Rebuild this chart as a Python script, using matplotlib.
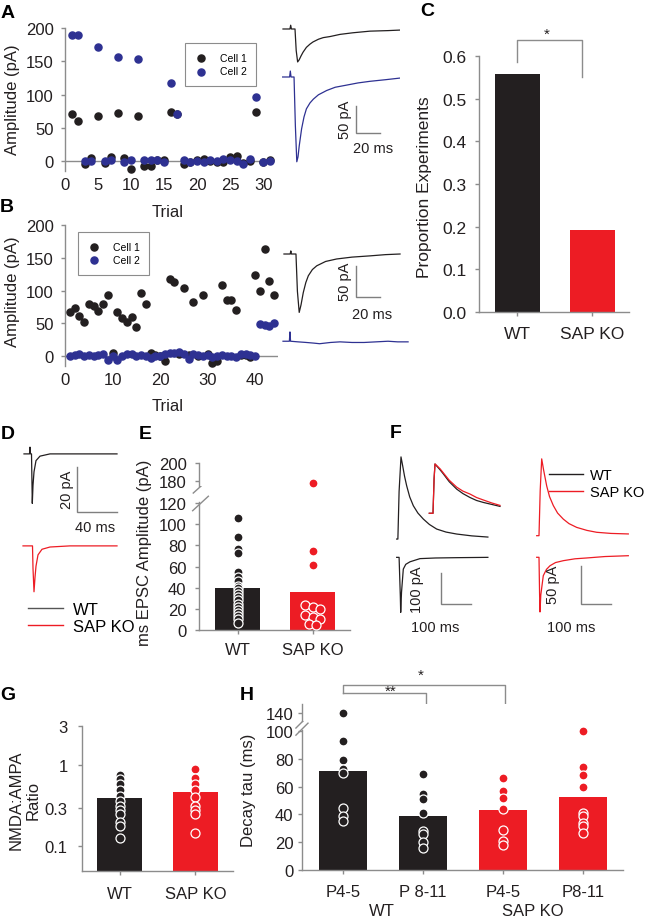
import matplotlib
matplotlib.use('Agg')
import numpy as np
import matplotlib.pyplot as plt
import matplotlib.transforms as mtransforms
from matplotlib.lines import Line2D

plt.rcParams['font.family'] = ['Liberation Sans', 'DejaVu Sans']

### Data ###

# A - amplitude per trial, two cells
trials_a = list(range(1, 32))
a_cell1 = [70, 60, -5, 5, 68, -3, 6, 72, 4, -12, 68, -8, -7, 2, 2, 74, 70, -4, -2, 2,
           3, 0, -1, -2, 6, 8, -3, 0, 73, -1, 2]
a_cell2 = [190, 189, 0, 0, 171, 0, 2, 157, -2, 2, 154, 1, 2, 1, -2, 118, 71, 2, -1, 0,
           -1, 1, 0, 3, 2, 0, -5, 3, 96, -1, 0]

# B - amplitude per trial, two cells
trials_b = list(range(1, 45))
b_cell1 = [68, 73, 61, 52, 79, 76, 69, 80, 94, 5, 67, 58, 52, 60, 45, 96, 80, 5, 2, 0,
           -8, 117, 113, 3, 104, 2, 83, 0, 94, 3, -10, -8, 108, 85, 85, 70, 2, 2, -1, 124,
           100, 164, 115, 94]
b_cell2 = [0, 2, 3, 1, 2, 1, 2, 3, -6, 0, -6, 1, 3, 4, 1, 2, 0, -3, 1, 0,
           3, 5, 5, 6, 4, -4, 3, 2, 1, 2, -2, 0, 2, 0, 1, -1, 3, 4, 2, 0,
           49, 48, 46, 50]

# example traces (ms, pA)
a1_t = [2.5, 8.3, 8.9, 9.5, 12.5, 13.5, 14.7, 16, 17.5, 19.2, 22, 25, 27.5, 32, 36, 41.7, 50, 60.8, 75, 90, 100]
a1_i = [0, 0, 7, 0, 0, -40, -61, -57, -50, -43, -34, -28, -24, -19, -16, -14, -10, -7, -4, -3, -2]
a2_t = [2.2, 8.0, 8.6, 9.2, 11.7, 12.8, 14, 15, 16, 18, 20, 22, 25, 27.8, 32, 38.9, 46, 55.6, 65, 75, 88, 100]
a2_i = [0, 0, 11, 0, 0, -90, -157, -148, -128, -96, -74, -59, -48, -41, -33, -25, -19, -15, -11, -8, -5, -2]
b1_t = [3.3, 8.5, 9, 9.5, 13.3, 14.5, 16, 17.5, 19.4, 21.5, 23.6, 27, 30.6, 38, 47.2, 60, 75, 88, 100]
b1_i = [0, 0, 5, 0, 0, -60, -94, -82, -62, -46, -35, -25, -19, -12, -8, -5, -3, -1, 0]
b2_t = [2.5, 7.8, 8.3, 8.8, 15, 22, 28, 33, 42, 50, 60, 70, 80, 90, 98, 106.7]
b2_i = [0, 0, 15, 0, -1, -2, -3, -4, -2, -1, -2, -2, -1, 0, -1, -1]

# C - proportion of experiments
groups = ['WT', 'SAP KO']
prop_exp = [0.557, 0.192]

# D - mEPSC traces
d1_t = [4, 9.5, 10, 10.5, 11.5, 12.3, 13, 14, 16, 20, 30, 50, 70, 97]
d1_i = [0, 0, 3, 0, 0, -22, -14, -8, -3, -1, 0, 0, 0, 0]
d2_t = [3, 12.5, 13, 14, 15, 16, 18, 22, 30, 50, 70, 97]
d2_i = [0, 0, -10, -20.4, -14, -9, -4, -1.5, -0.5, 0, 0, 0]

# E - mEPSC amplitude
e_mean = [39.7, 35.5]
e_wt = [106, 88, 77, 73, 55, 50, 46, 42, 40, 37, 34, 31, 28, 25, 22, 19, 16, 13, 10, 7]
e_ko = [178, 75, 61, 24, 22, 20, 14, 12, 10, 6, 5]
e_ko_jit = [0, 0, 0, -0.1, 0, 0.1, -0.1, 0, 0.1, -0.05, 0.05]

# F - NMDA / AMPA traces
fw_n_t = [22, 26, 30, 36.3, 42, 48, 55, 65, 77, 92, 110, 130, 154, 185, 220, 270, 323]
fw_n_i = [0, 0, 150, 259, 230, 198, 168, 133, 105, 82, 63, 46, 31.5, 22, 15.8, 10, 6.3]
fw_a_t = [22, 30, 34, 35.3, 38, 43.9, 52, 66, 99, 150, 220, 323]
fw_a_i = [0, 0, -120, -173.5, -110, -37, -22, -14, -4, -2, -1, 0]
fk_n_t = [22.3, 30, 34, 39, 45, 55.7, 65, 77.7, 92, 111, 130, 155.7, 190, 222.3, 270, 327.7]
fk_n_i = [0, 0, 60, 102, 88, 66, 52, 40, 30, 22, 16, 11, 7, 4.5, 3, 2.3]
fk_a_t = [22.3, 30, 32, 33.3, 36, 44.3, 55, 66.7, 85, 111, 150, 189, 250, 327.7]
fk_a_i = [0, 0, -50, -72.6, -50, -24.4, -16, -11.2, -7, -4.5, -2, -0.9, 1, 2.1]
fn_t = [14.2, 26.4, 30, 33, 40, 50, 60.4, 80, 104.6, 125, 148.5, 170, 192.4, 220, 247.5]
fn_wt = [0, 0, 0.7, 1.0, 0.95, 0.88, 0.80, 0.64, 0.49, 0.40, 0.32, 0.26, 0.22, 0.18, 0.14]
fn_ko = [0, 0, 0.7, 1.0, 0.96, 0.90, 0.82, 0.67, 0.53, 0.45, 0.39, 0.32, 0.27, 0.21, 0.16]

# G - NMDA:AMPA ratio
g_mean = [0.39, 0.47]
g_wt = [0.75, 0.68, 0.59, 0.49, 0.42, 0.36, 0.31, 0.28, 0.25, 0.20, 0.18, 0.125]
g_ko = [0.90, 0.69, 0.59, 0.49, 0.40, 0.31, 0.28, 0.25, 0.144]

# H - decay tau
h_labels = ['P4-5', 'P 8-11', 'P4-5', 'P8-11']
h_mean = [71.5, 39, 43.1, 52.7]
h_pts = [[140, 93, 79.5, 72.5, 70, 44.5, 39, 35],
         [69, 55, 51, 41, 28, 26, 20, 16],
         [66, 57, 52, 44, 29, 20.5, 17.5],
         [100, 74.5, 68.5, 59.5, 41, 39, 34, 31.5, 26.5]]

### Style ###
BLK = '#231f20'
RED = '#ed1c24'
BLU = '#2e3192'
AXC = '#8c8c8c'
TXT = '#231f20'
SB = '#7f7f7f'

W, H = 650, 920
fig = plt.figure(figsize=(6.5, 9.2), dpi=100)


def add_ax(x0, y0, x1, y1):
    return fig.add_axes([x0 / W, 1 - y1 / H, (x1 - x0) / W, (y1 - y0) / H])


def ptext(x, y, s, **kw):
    kw.setdefault('ha', 'center')
    kw.setdefault('va', 'center')
    kw.setdefault('color', TXT)
    kw.setdefault('fontsize', 12)
    fig.text(x / W, 1 - y / H, s, **kw)


def bar_axes(ax, fs=12):
    for s in ('top', 'right'):
        ax.spines[s].set_visible(False)
    for s in ('left', 'bottom'):
        ax.spines[s].set_color(AXC)
        ax.spines[s].set_linewidth(1)
    ax.tick_params(color=AXC, labelcolor=TXT, labelsize=fs, length=3, width=1)


def trace_axes(ax):
    ax.axis('off')


def scalebar(ax, x, y, dx, dy, lx, ly, tx, ty):
    ax.plot([x, x, x + dx], [y + dy, y, y], color=SB, lw=1, solid_joinstyle='miter')
    ax.text(*tx, lx, rotation=90, ha='center', va='center', fontsize=10.5, color=TXT)
    ax.text(*ty, ly, ha='center', va='center', fontsize=10.5, color=TXT)


def dots(ax, x, vals, color, lo=None, hi=None):
    vals = np.asarray(vals, float)
    x = np.asarray(x, float)
    m = np.ones(len(vals), bool)
    if lo is not None:
        m &= vals >= lo
    if hi is not None:
        m &= vals <= hi
    ax.scatter(x[m], vals[m], s=42, color=color, edgecolors='white',
               linewidths=0.9, zorder=3, clip_on=False)


def slash(ax, x0, y0, x1, y1):
    ax.plot([x0, x1], [y0, y1], color=AXC, lw=1, transform=ax.transAxes, clip_on=False)


### A ###
axA = add_ax(65, 29, 273, 172)
axA.axhline(0, color=AXC, lw=1, zorder=1)
axA.scatter(trials_a, a_cell1, s=26, color=BLK, label='Cell 1', zorder=3, clip_on=False)
axA.scatter(trials_a, a_cell2, s=26, color=BLU, label='Cell 2', zorder=4, clip_on=False)
axA.set_xlim(0, 31.5)
axA.set_ylim(-15, 200)
bar_axes(axA)
axA.spines['bottom'].set_visible(False)
axA.set_xticks(range(0, 31, 5))
axA.set_yticks(range(0, 201, 50))
axA.tick_params(axis='x', length=0, pad=4)
axA.tick_params(axis='y', pad=5)
legA = axA.legend(loc='upper left', bbox_to_anchor=(0.553, 0.93), fontsize=7.5,
                  fancybox=False, edgecolor=AXC, framealpha=1, handletextpad=1.2,
                  borderpad=0.9, labelspacing=0.35, handlelength=1.2)
legA.get_frame().set_linewidth(0.8)
ptext(13, 100, 'Amplitude (pA)', rotation=90)
ptext(168, 213, 'Trial')

# A traces
axAt = add_ax(280, 20, 400, 170)
trace_axes(axAt)
axAt.set_xlim(0, 100)
axAt.set_ylim(-277.8, 0)
axAt.plot(a1_t, np.array(a1_i) - 18.5, color=BLK, lw=0.9)
axAt.plot(a2_t, np.array(a2_i) - 107.4, color=BLU, lw=0.9)
scalebar(axAt, 63.3, -211, 20, 50, '50 pA', '20 ms', (54.2, -185), (77.5, -239))

### B ###
axB = add_ax(65, 226, 278, 367)
axB.axhline(0, color=AXC, lw=1, zorder=1)
axB.scatter(trials_b, b_cell1, s=26, color=BLK, label='Cell 1', zorder=3, clip_on=False)
axB.scatter(trials_b, b_cell2, s=26, color=BLU, label='Cell 2', zorder=4, clip_on=False)
axB.set_xlim(0, 44.8)
axB.set_ylim(-15, 200)
bar_axes(axB)
axB.spines['bottom'].set_visible(False)
axB.set_xticks(range(0, 41, 10))
axB.set_yticks(range(0, 201, 50))
axB.tick_params(axis='x', length=0, pad=4)
axB.tick_params(axis='y', pad=5)
legB = axB.legend(loc='upper left', bbox_to_anchor=(0.038, 0.986), fontsize=7.5,
                  fancybox=False, edgecolor=AXC, framealpha=1, handletextpad=1.2,
                  borderpad=0.9, labelspacing=0.35, handlelength=1.2)
legB.get_frame().set_linewidth(0.8)
ptext(13, 292, 'Amplitude (pA)', rotation=90)
ptext(168, 407, 'Trial')

axBt = add_ax(280, 245, 410, 350)
trace_axes(axBt)
axBt.set_xlim(0, 108.3)
axBt.set_ylim(-169, 0)
axBt.plot(b1_t, np.array(b1_i) - 16.1, color=BLK, lw=0.9)
axBt.plot(b2_t, np.array(b2_i) - 156.5, color=BLU, lw=0.9)
scalebar(axBt, 63.3, -85.5, 20, 50, '50 pA', '20 ms', (54.2, -59.7), (76.7, -112.9))

### C ###
axC = add_ax(479, 57, 629, 313)
axC.bar([0, 1], prop_exp, width=0.6, color=[BLK, RED])
axC.set_xlim(-0.507, 1.493)
axC.set_ylim(0, 0.6)
bar_axes(axC, 12.5)
axC.set_xticks([0, 1], groups)
axC.set_yticks(np.arange(0, 0.61, 0.1))
axC.set_yticklabels(['%.1f' % v for v in np.arange(0, 0.61, 0.1)])
axC.tick_params(axis='y', pad=6)
axC.tick_params(axis='x', pad=7)
axC.plot([0, 0, 0.867, 0.867], [0.586, 0.6375, 0.6375, 0.551], color=AXC, lw=1, clip_on=False)
axC.text(0.4, 0.652, '*', ha='center', va='center', fontsize=11, color=TXT)
ptext(425, 187, 'Proportion Experiments', rotation=90, fontsize=12.5)

### D ###
axD = add_ax(20, 445, 125, 640)
trace_axes(axD)
axD.set_xlim(0, 105)
axD.set_ylim(-86.7, 0)
axD.plot(d1_t, np.array(d1_i) - 4.4, color=BLK, lw=0.9)
axD.plot(d2_t, np.array(d2_i) - 45.3, color=RED, lw=0.9)
scalebar(axD, 57, -30.2, 40, 20, '20 pA', '40 ms', (47, -20), (75, -36.9))
hD = [Line2D([], [], color='#555555', lw=1), Line2D([], [], color=RED, lw=1)]
axD.legend(hD, ['WT', 'SAP KO'], loc='upper left', bbox_to_anchor=(28 / W, 1 - 603 / H),
           bbox_transform=fig.transFigure, frameon=False, fontsize=12, handlelength=2.1,
           handletextpad=0.6, borderpad=0, borderaxespad=0, labelspacing=0.1)

### E ###
axE = add_ax(199, 503, 350, 631)
axEu = add_ax(199, 464, 350, 487)
axE.bar([0, 1], e_mean, width=0.6, color=[BLK, RED])
axEu.bar([0, 1], e_mean, width=0.6, color=[BLK, RED])
dots(axE, np.zeros(len(e_wt)), e_wt, BLK, hi=121)
dots(axE, 1 + np.array(e_ko_jit), e_ko, RED, hi=121)
dots(axEu, 1 + np.array(e_ko_jit), e_ko, RED, lo=174.5)
for ax in (axE, axEu):
    ax.set_xlim(-0.52, 1.5)
    bar_axes(ax)
    ax.tick_params(axis='y', pad=6)
axE.set_ylim(0, 121)
axEu.set_ylim(174.5, 200)
axE.set_yticks(range(0, 121, 20))
axEu.set_yticks([180, 200])
axE.set_xticks([0, 1], groups)
axE.tick_params(axis='x', pad=6)
axEu.spines['bottom'].set_visible(False)
axEu.set_xticks([])
slash(axE, -0.042, 0.932, 0.062, 1.045)
slash(axE, -0.038, 1.07, 0.062, 1.176)
ptext(145, 553, 'ms EPSC Amplitude (pA)', rotation=90)

### F ###
axF1 = add_ax(390, 450, 500, 640)
trace_axes(axF1)
axF1.set_xlim(0, 363)
axF1.set_ylim(-599, 0)
axF1.plot(fw_n_t, np.array(fw_n_i) - 283.9, color=BLK, lw=0.9)
axF1.plot(fw_a_t, np.array(fw_a_i) - 341.6, color=BLK, lw=0.9)
scalebar(axF1, 167.3, -489.9, 100, 100, '100 pA', '100 ms', (88, -441.6), (148.5, -560))

axFi = add_ax(425, 460, 505, 520)
trace_axes(axFi)
axFi.set_xlim(0, 264)
axFi.set_ylim(-0.116, 1.101)
axFi.plot(fn_t, fn_wt, color=BLK, lw=0.9)
axFi.plot(fn_t, fn_ko, color=RED, lw=0.9)

axF2 = add_ax(530, 450, 640, 640)
trace_axes(axF2)
axF2.set_xlim(0, 366.7)
axF2.set_ylim(-252.3, 0)
axF2.plot(fk_n_t, np.array(fk_n_i) - 115.1, color=RED, lw=0.9)
axF2.plot(fk_a_t, np.array(fk_a_i) - 143.8, color=RED, lw=0.9)
scalebar(axF2, 169, -205.3, 100, 50, '50 pA', '100 ms', (76.7, -179.3), (136.7, -236))
hF = [Line2D([], [], color=BLK, lw=1), Line2D([], [], color=RED, lw=1)]
axF2.legend(hF, ['WT', 'SAP KO'], loc='upper left', bbox_to_anchor=(549 / W, 1 - 469 / H),
            bbox_transform=fig.transFigure, frameon=False, fontsize=10.5, handlelength=2.3,
            handletextpad=0.5, borderpad=0, borderaxespad=0, labelspacing=0.2)

### G ###
axG = add_ax(81.7, 726.7, 233.3, 871.7)
axG.set_yscale('log')
g_floor = 0.05
axG.bar([0, 1], np.array(g_mean) - g_floor, bottom=g_floor, width=0.6, color=[BLK, RED])
dots(axG, np.zeros(len(g_wt)), g_wt, BLK)
dots(axG, np.ones(len(g_ko)), g_ko, RED)
axG.set_xlim(-0.5, 1.5)
axG.set_ylim(g_floor, 3.05)
bar_axes(axG)
axG.set_yticks([0.1, 0.3, 1, 3], ['0.1', '0.3', '1', '3'])
axG.yaxis.set_minor_locator(matplotlib.ticker.NullLocator())
axG.set_xticks([0, 1], groups)
axG.tick_params(axis='y', pad=7)
axG.tick_params(axis='x', pad=8)
ptext(25, 800, 'NMDA:AMPA\nRatio', rotation=90, linespacing=1.15)

### H ###
axH = add_ax(301.7, 731, 622.7, 870.7)
axHu = add_ax(301.7, 705, 622.7, 722)
h_cols = [BLK, BLK, RED, RED]
for ax in (axH, axHu):
    ax.bar(range(4), h_mean, width=0.6, color=h_cols)
for i, pts in enumerate(h_pts):
    dots(axH, np.full(len(pts), i), pts, h_cols[i], hi=101)
    dots(axHu, np.full(len(pts), i), pts, h_cols[i], lo=136)
for ax in (axH, axHu):
    ax.set_xlim(-0.52, 3.5)
    bar_axes(ax)
    ax.tick_params(axis='y', pad=3)
axH.set_ylim(0, 101)
axHu.set_ylim(136, 145)
axH.set_yticks(range(0, 101, 20))
axHu.set_yticks([140])
axHu.spines['bottom'].set_visible(False)
axHu.set_xticks([])
axH.set_xticks(range(4), h_labels)
axH.tick_params(axis='x', pad=7)
slash(axH, -0.018, 0.963, 0.0196, 1.049)
slash(axH, -0.018, 1.014, 0.0196, 1.10)
bt = mtransforms.blended_transform_factory(axH.transData, axH.transAxes)
axH.plot([0, 0, 2.03, 2.03], [1.268, 1.322, 1.322, 1.161], color=AXC, lw=1,
         transform=bt, clip_on=False)
axH.plot([0, 1.04, 1.04], [1.268, 1.268, 1.126], color=AXC, lw=1,
         transform=bt, clip_on=False)
axH.text(0.97, 1.395, '*', transform=bt, ha='center', va='center', fontsize=11, color=TXT)
axH.text(0.6, 1.28, '**', transform=bt, ha='center', va='center', fontsize=11, color=TXT)
ptext(248, 790, 'Decay tau (ms)', rotation=90)
ptext(381.7, 912, 'WT')
ptext(533, 912, 'SAP KO')

### Panel letters ###
for s, x, y in [('A', 8, 14), ('B', 7, 208), ('C', 427, 12), ('D', 8, 435),
                ('E', 145, 435), ('F', 396, 434), ('G', 8, 696), ('H', 247, 696)]:
    ptext(x, y, s, fontsize=14, fontweight='bold', color='black')

fig.savefig('out.png', dpi=100)
